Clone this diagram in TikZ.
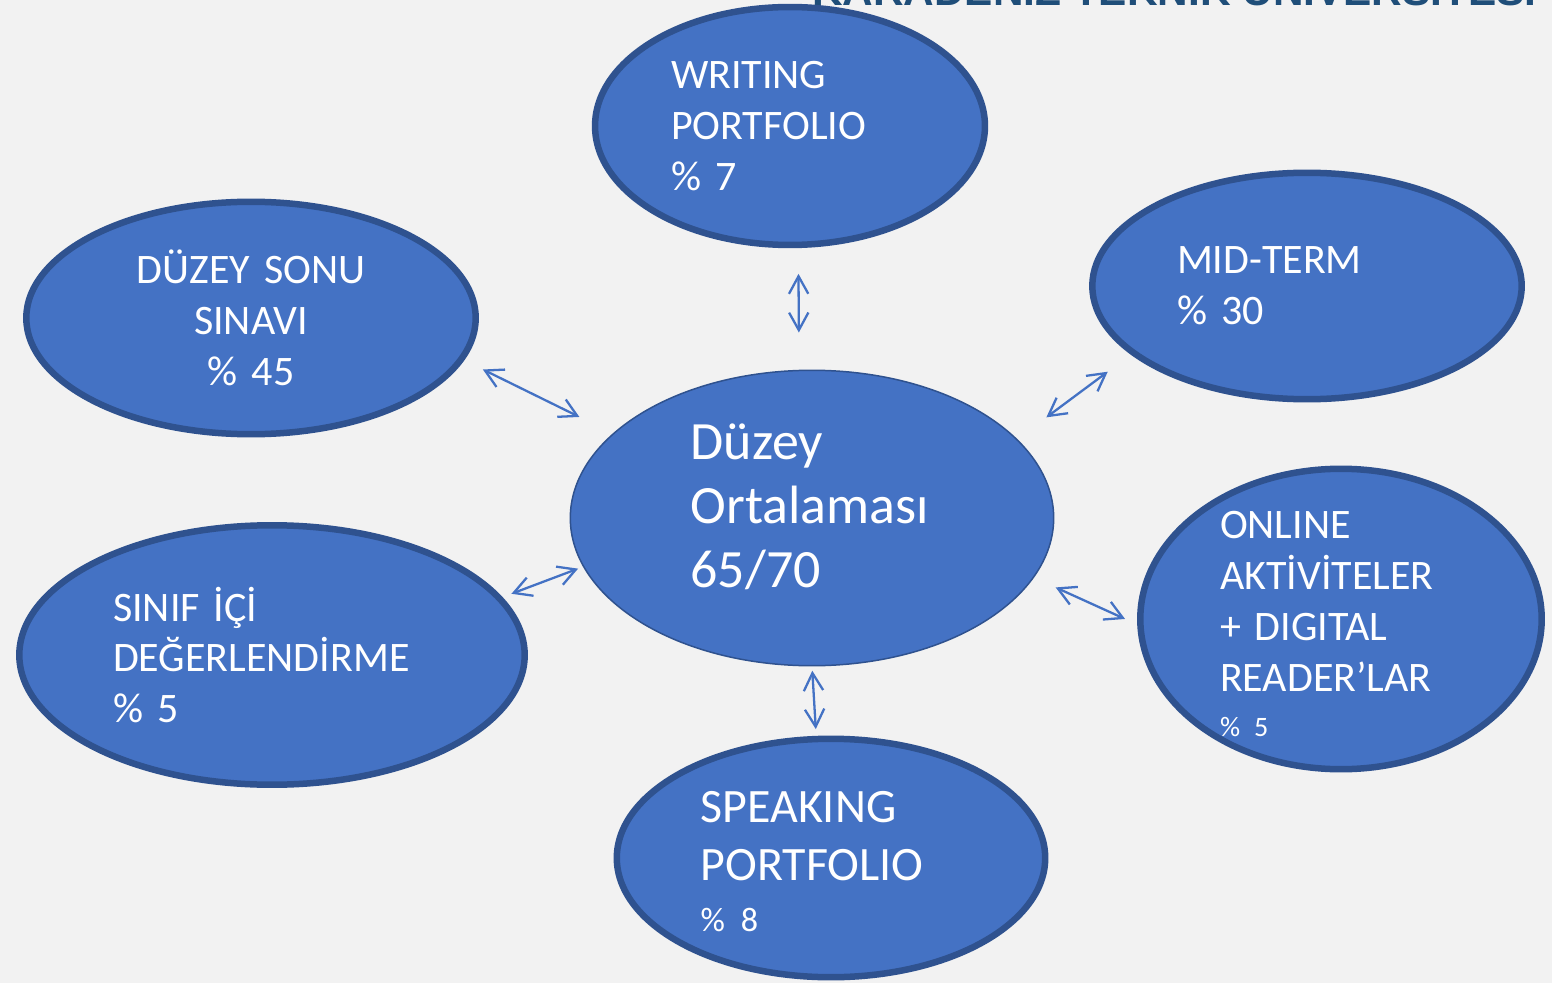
\documentclass[tikz,border=0pt]{standalone}
\usepackage{fontspec}
\setmainfont{Carlito}[WordSpace=0.85]
\newfontfamily\headfont{Liberation Sans}
\usetikzlibrary{shapes.geometric,arrows.meta}
\definecolor{bubblefill}{HTML}{4472C4}
\definecolor{bubbleline}{HTML}{2F528F}
\definecolor{pagebg}{HTML}{F2F2F2}
\definecolor{headblue}{HTML}{1F4E79}

\begin{document}
\begin{tikzpicture}[x=0.02cm, y=-0.02cm,
    bubble/.style={ellipse, draw=bubbleline, line width=3.7pt, fill=bubblefill,
      text=white, inner sep=0pt, outer sep=0pt, align=left,
      font=\fontsize{23.9pt}{29pt}\selectfont},
    link/.style={color=bubblefill, line width=1.3pt,
      >={Straight Barb[length=10pt,width=11pt]}, <->}]
  \path[use as bounding box, fill=pagebg] (0,0) rectangle (1552,983);
  \node[font=\headfont\bfseries\fontsize{24.1pt}{29pt}\selectfont, text=headblue,
    anchor=base east, inner sep=0pt] (uni) at (1537,6) {KARADENİZ TEKNİK ÜNİVERSİTESİ};
  \path
    (790,126) node[bubble, minimum width=7.8cm, minimum height=4.76cm, text width=4.76cm]
      (writing) {WRITING\\PORTFOLIO\\\% 7}
    (251,318) node[bubble, minimum width=8.99cm, minimum height=4.65cm, text width=4.7cm, align=center]
      (sonu) {DÜZEY SONU\\SINAVI\\\% 45}
    (1307,286) node[bubble, minimum width=8.59cm, minimum height=4.53cm, text width=5.2cm]
      (midterm) {MID-TERM\\\% 30}
    (812,518) node[bubble, line width=0.85pt, minimum width=9.67cm, minimum height=5.91cm, text width=4.86cm,
      font=\fontsize{30.7pt}{36.4pt}\selectfont]
      (center) {Düzey\\Ortalaması\\65/70\rule[-0.5cm]{0pt}{0pt}}
    (272,655) node[bubble, minimum width=10.11cm, minimum height=5.19cm, text width=6.36cm]
      (sinif) {SINIF İÇİ\\DEĞERLENDİRME\\\% 5}
    (1341,619) node[bubble, minimum width=8.03cm, minimum height=6.01cm, text width=4.84cm, inner ysep=-0.3cm]
      (online) {\rule{0pt}{0.74cm}ONLINE\\AKTİVİTELER\\+ DIGITAL\\READER’LAR\\[-3.4pt]{\fontsize{16pt}{19pt}\selectfont\% 5}}
    (831,858) node[bubble, minimum width=8.57cm, minimum height=4.77cm, text width=5.22cm,
      font=\fontsize{27.3pt}{33pt}\selectfont]
      (speaking) {\rule{0pt}{0.78cm}SPEAKING\\PORTFOLIO\\[-4pt]{\fontsize{19.4pt}{23pt}\selectfont\% 8}};
  \begin{scope}[link]
    \draw[shorten <=0.58cm, shorten >=0.76cm] (writing.-86.7) to (center.95.6);
    \draw[shorten <=0.48cm, shorten >=0.76cm] (sonu.-11.3) to (center.157.1);
    \draw[shorten <=0.64cm, shorten >=0.74cm] (midterm.-159.8) to (center.21.1);
    \draw[shorten <=0.26cm, shorten >=0.12cm] (sinif.14.4) to (center.-168.9);
    \draw[shorten <=0.34cm, shorten >=0.49cm] (online.-178.1) to (center.-15);
    \draw[shorten <=0.2cm, shorten >=0.1cm] (speaking.97.9) to (center.-90);
  \end{scope}
\end{tikzpicture}
\end{document}
